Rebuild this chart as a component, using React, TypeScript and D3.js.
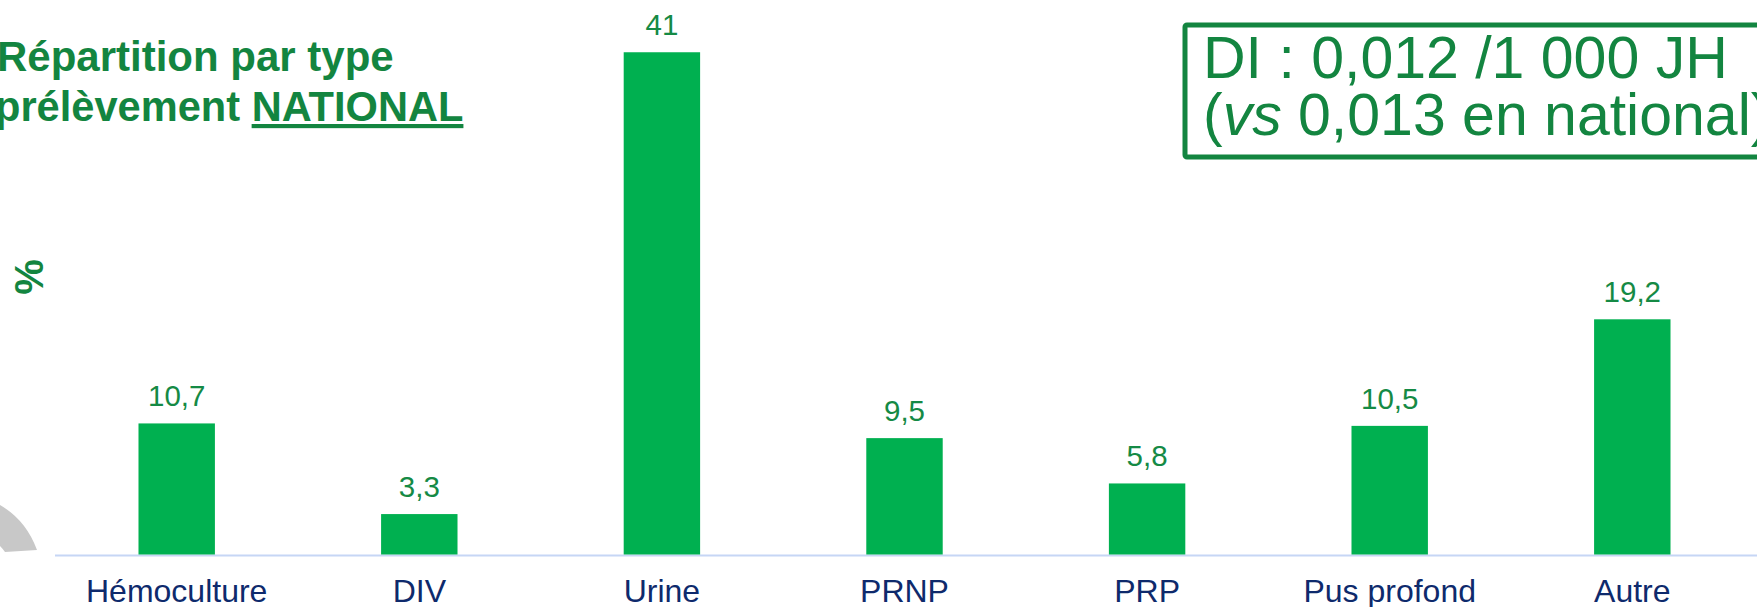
import React from "react";
import * as d3 from "d3";

const categories = ["Hémoculture", "DIV", "Urine", "PRNP", "PRP", "Pus profond", "Autre"];
const values = [10.7, 3.3, 41, 9.5, 5.8, 10.5, 19.2];
const valueLabels = ["10,7", "3,3", "41", "9,5", "5,8", "10,5", "19,2"];
const titleLines = ["Répartition par type", "prélèvement "];
const titleUnderlined = "NATIONAL";
const diLine1 = "DI : 0,012 /1 000 JH";
const yAxisLabel = "%";

const W = 1757;
const H = 607;
const FONT = "'Liberation Sans', Arial, Helvetica, sans-serif";

export default function App() {
  const x = d3
    .scaleBand<string>()
    .domain(categories)
    .range([55.4, 1753.6])
    .paddingInner(0.685)
    .paddingOuter(0.3425);
  const y = d3.scaleLinear().domain([0, 45]).range([554.5, 3.25]);

  const arc = d3.path();
  arc.moveTo(0, 505);
  arc.quadraticCurveTo(26, 520, 37, 550);
  arc.lineTo(5, 552);
  arc.quadraticCurveTo(3, 549, 0, 546);
  arc.closePath();

  return (
    <svg
      width={W}
      height={H}
      style={{ position: "absolute", left: 0, top: 0, display: "block", background: "#fff" }}
      fontFamily={FONT}
    >
      <rect x={0} y={0} width={W} height={H} fill="#ffffff" />
      {/* decorative grey arc */}
      <path d={arc.toString()} fill="#c8c8c8" />

      {/* title */}
      <text x={-3} y={71} fontSize={42} fontWeight="bold" fill="#138540">
        {titleLines[0]}
      </text>
      <text x={-5} y={121} fontSize={41.6} fontWeight="bold" fill="#138540">
        {titleLines[1]}
        <tspan textDecoration="underline" style={{ textDecoration: "underline" }}>
          {titleUnderlined}
        </tspan>
      </text>

      {/* y label */}
      <text
        transform="translate(43,277) rotate(-90)"
        textAnchor="middle"
        fontSize={40}
        fontWeight="bold"
        fill="#138540"
      >
        {yAxisLabel}
      </text>

      {/* DI box */}
      <rect x={1185} y={25} width={700} height={132} fill="none" stroke="#138540" strokeWidth={5} rx={2} />
      <text x={1203} y={78} fontSize={59} fill="#138540">
        {diLine1}
      </text>
      <text x={1203} y={135} fontSize={59} fill="#138540">
        (<tspan fontStyle="italic">vs</tspan> 0,013 en national)
      </text>

      {/* baseline */}
      <line x1={55} x2={W} y1={555.5} y2={555.5} stroke="#c6d6f5" strokeWidth={2} />

      {/* bars */}
      {categories.map((c, i) => (
        <rect
          key={c}
          x={x(c)}
          y={y(values[i])}
          width={x.bandwidth()}
          height={y(0) - y(values[i])}
          fill="#00b050"
        />
      ))}

      {/* value labels */}
      {categories.map((c, i) => (
        <text
          key={"v" + c}
          x={(x(c) as number) + x.bandwidth() / 2}
          y={y(values[i]) - 17}
          textAnchor="middle"
          fontSize={29.5}
          fill="#158a45"
        >
          {valueLabels[i]}
        </text>
      ))}

      {/* category labels */}
      {categories.map((c) => (
        <text
          key={"c" + c}
          x={(x(c) as number) + x.bandwidth() / 2}
          y={602}
          textAnchor="middle"
          fontSize={32}
          fill="#0e2a6c"
        >
          {c}
        </text>
      ))}
    </svg>
  );
}
